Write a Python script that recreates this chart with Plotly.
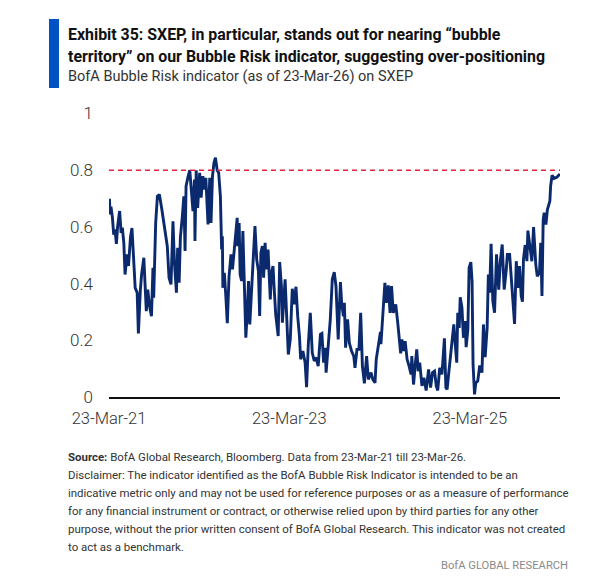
import plotly.graph_objects as go
import pandas as pd

W, H = 613, 581

start_date = pd.Timestamp("2021-03-23")
end_date = pd.Timestamp("2026-03-23")

# days since 23-Mar-21
day_offset = [
    2, 4, 8, 14, 19, 24, 30, 35, 43, 49, 54, 60, 65, 73, 79, 87, 93, 99, 106, 114,
    119, 127, 132, 141, 146, 151, 157, 164, 172, 178, 181, 189, 196, 204, 214, 222, 230, 236, 243, 251,
    259, 265, 273, 278, 284, 289, 297, 303, 308, 312, 319, 327, 332, 340, 346, 348, 353, 359, 367, 373,
    380, 386, 392, 401, 408, 413, 419, 425, 431, 438, 444, 451, 456, 459, 461, 467, 473, 479, 486, 494,
    500, 508, 519, 521, 527, 531, 537, 542, 547, 554, 559, 565, 570, 578, 583,
    591, 598, 605, 610, 615, 621, 626, 632, 637, 644, 653, 658, 664, 669, 675, 685, 691, 698, 702, 713,
    718, 726, 734, 742, 750, 757, 764, 771, 776, 785, 794, 800, 807, 815, 823, 831, 839, 847, 856, 862,
    869, 876, 879, 888, 896, 904, 912, 919, 928, 937, 942, 949, 953, 958, 966, 973, 982, 991, 996, 1004,
    1012, 1019, 1026, 1034, 1043, 1050, 1061, 1068, 1077, 1082, 1091, 1099, 1101, 1107, 1112, 1117, 1123, 1131, 1138, 1144,
    1151, 1161, 1169, 1174, 1181, 1186, 1193,
    1199, 1207, 1215, 1223, 1226, 1233, 1240, 1246, 1252, 1258, 1267, 1275, 1284, 1294, 1302, 1310, 1318, 1325, 1331, 1339,
    1348, 1353, 1358, 1364, 1369, 1375, 1385, 1396, 1402, 1408, 1412, 1418, 1422, 1429, 1435, 1442, 1446, 1453, 1458, 1465,
    1470, 1474, 1480, 1485, 1493, 1501, 1510, 1516, 1523, 1531, 1536, 1541, 1547, 1554, 1561, 1569, 1578, 1585, 1592, 1600,
    1608, 1613, 1622, 1631, 1638, 1642, 1649, 1655, 1662, 1669, 1674, 1678, 1685, 1692, 1696, 1705, 1712, 1719, 1728, 1734,
    1743, 1748, 1753, 1758, 1762, 1769, 1775, 1785, 1788, 1794, 1802, 1813, 1826,
]
bubble_risk = [
    .699, .644, .671, .632, .573, .591, .54, .603, .656, .579, .597, .544, .432, .503, .462, .565, .596, .497, .385, .368,
    .224, .379, .432, .491, .391, .303, .379, .321, .285, .456, .35, .614, .708, .714, .661, .609, .556, .532, .421, .397,
    .62, .473, .368, .526, .403, .562, .638, .708, .515, .744, .773, .80, .744, .656, .767, .55, .80, .667, .791, .703,
    .779, .732, .773, .609, .773, .614, .779, .826, .844, .80, .791, .708, .52, .567, .385, .438, .356, .26, .426, .503,
    .45, .532, .632, .532, .614, .432, .409, .585, .403, .209, .285, .409, .256, .379, .485,
    .603, .485, .444, .286, .509, .532, .421, .544, .45, .52, .344, .438, .462, .38, .291, .215, .476, .391, .262, .415,
    .309, .15, .203, .382, .327, .389, .285, .215, .133, .162, .121, .035, .186, .297, .156, .127, .139, .109, .221, .224,
    .121, .174, .086, .191, .274, .415, .44, .391, .203, .405, .332, .285, .332, .174, .274, .191, .162, .144, .103, .168,
    .168, .297, .109, .048, .144, .062, .086, .062, .05, .133, .18, .229, .186, .286, .344, .403, .332, .394, .297, .391,
    .297, .327, .262, .221, .154, .203, .162,
    .197, .133, .109, .08, .144, .044, .115, .168, .091, .121, .039, .068, .023, .097, .033, .086, .091, .039, .023, .103,
    .08, .15, .207, .033, .027, .08, .162, .256, .185, .121, .297, .244, .352, .315, .209, .268, .176, .238, .456, .476,
    .409, .115, .009, .05, .056, .111, .086, .256, .141, .244, .432, .368, .54, .338, .297, .503, .379, .485, .538, .379,
    .444, .503, .503, .385, .315, .258, .479, .385, .462, .356, .336, .485, .536, .479, .587, .52, .479, .599, .467, .426,
    .438, .544, .356, .626, .65, .608, .661, .691, .744, .782, .771, .775, .787,
]
threshold = 0.8

y_ticks = [0, 0.2, 0.4, 0.6, 0.8, 1]
x_ticks = ["2021-03-23", "2023-03-23", "2025-03-23"]

title_lines = [
    "<b>Exhibit 35: SXEP, in particular, stands out for nearing “bubble</b>",
    "<b>territory” on our Bubble Risk indicator, suggesting over-positioning</b>",
]
subtitle = "BofA Bubble Risk indicator (as of 23-Mar-26) on SXEP"
footer_lines = [
    "<b>Source:</b> BofA Global Research, Bloomberg. Data from 23-Mar-21 till 23-Mar-26.",
    "Disclaimer: The indicator identified as the BofA Bubble Risk Indicator is intended to be an",
    "indicative metric only and may not be used for reference purposes or as a measure of performance",
    "for any financial instrument or contract, or otherwise relied upon by third parties for any other",
    "purpose, without the prior written consent of BofA Global Research. This indicator was not created",
    "to act as a benchmark.",
]
credit = "BofA GLOBAL RESEARCH"

dates = start_date + pd.to_timedelta(day_offset, unit="D")


def px_x(x):
    return x / W


def px_y(y):
    return 1 - y / H


def add_text(fig, x, y, text, size, color, family="Roboto", anchor="left"):
    fig.add_annotation(
        x=px_x(x), y=px_y(y), xref="paper", yref="paper", text=text, showarrow=False,
        xanchor=anchor, yanchor="middle", align=anchor,
        font=dict(family=family, size=size, color=color),
        borderpad=0, borderwidth=0,
    )


fig = go.Figure()
fig.add_trace(go.Scatter(x=dates, y=bubble_risk, mode="lines", line=dict(color="#0b2a6e", width=2.9)))
fig.add_trace(go.Scatter(
    x=[start_date, end_date], y=[threshold, threshold], mode="lines",
    line=dict(color="#e8213f", width=1.5, dash="5px,4px"),
))

fig.update_layout(
    width=W, height=H, margin=dict(l=0, r=0, t=0, b=0), showlegend=False,
    plot_bgcolor="white", paper_bgcolor="white",
    font=dict(family="Roboto", color="#333333"),
    xaxis=dict(
        domain=[px_x(109), px_x(560)], range=[start_date, end_date], automargin=False,
        tickvals=x_ticks, tickformat="%d-%b-%y", showgrid=False, zeroline=False,
        showline=True, linecolor="#111111", linewidth=1.5, ticks="", ticklabelstandoff=5,
        tickfont=dict(size=16.5, color="#333333", family="Roboto", weight=300),
    ),
    yaxis=dict(
        domain=[px_y(397), px_y(113.5)], range=[0, 1], automargin=False, tickvals=y_ticks, tickformat="~g",
        showgrid=False, zeroline=False, showline=False, ticks="", ticklabelstandoff=15,
        tickfont=dict(size=17, color="#333333", family="Roboto", weight=300),
    ),
)

# blue bar beside the heading
fig.add_shape(type="rect", xref="paper", yref="paper", x0=px_x(49), x1=px_x(59), y0=px_y(88), y1=px_y(19),
              fillcolor="#0052c4", line_width=0)

add_text(fig, 68, 34, title_lines[0], 15.9, "#111111")
add_text(fig, 68, 57, title_lines[1], 15.9, "#111111")
add_text(fig, 68, 77, subtitle, 14.5, "#333333")

for i, line in enumerate(footer_lines):
    add_text(fig, 68, 457 + i * 18, line, 11.45, "#333333")
add_text(fig, 568, 565, credit, 11.2, "#8a8a8a", anchor="right")

fig.write_html(
    "out.html",
    config={"displayModeBar": False},
    post_script="document.body.style.margin='0';",
)
